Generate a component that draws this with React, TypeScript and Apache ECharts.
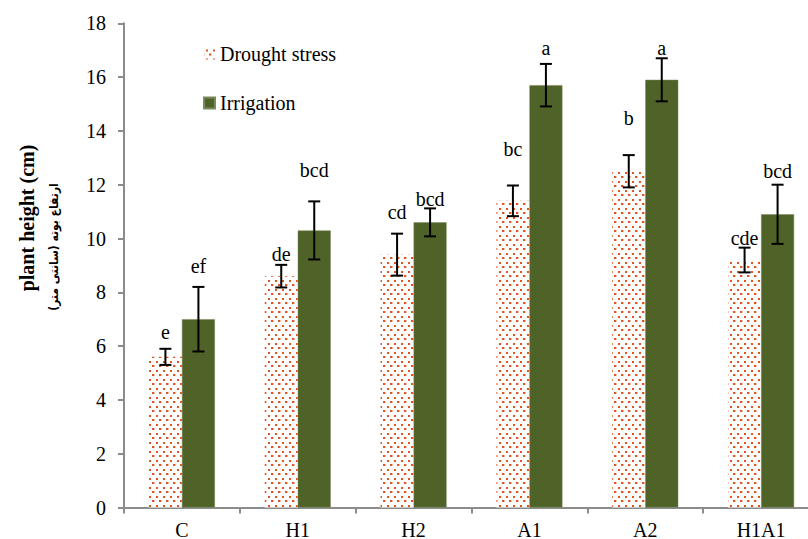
import React, { useEffect, useRef } from "react";
import * as echarts from "echarts";

const categories = ["C", "H1", "H2", "A1", "A2", "H1A1"];
const drought = [5.6, 8.6, 9.4, 11.4, 12.5, 9.2];
const droughtErr = [0.3, 0.42, 0.78, 0.57, 0.6, 0.46];
const irrigation = [7.0, 10.3, 10.6, 15.7, 15.9, 10.9];
const irrigationErr = [1.2, 1.08, 0.52, 0.79, 0.8, 1.1];
const droughtLetters = ["e", "de", "cd", "bc", "b", "cde"];
const irrigationLetters = ["ef", "bcd", "bcd", "a", "a", "bcd"];
const droughtLetterAt = [6.54, 9.43, 10.98, 13.34, 14.48, 10.01];
const irrigationLetterAt = [8.96, 12.55, 11.46, 17.07, 17.07, 12.51];

const SERIF = "Liberation Serif";
const BAR_W = 33;

function makeDots() {
  const cv = document.createElement("canvas");
  cv.width = 7;
  cv.height = 9;
  const ctx = cv.getContext("2d")!;
  ctx.fillStyle = "#ffffff";
  ctx.fillRect(0, 0, 7, 9);
  ctx.fillStyle = "#E4521F";
  ctx.fillRect(2, 1, 2, 2);
  ctx.fillRect(5, 5, 2, 2);
  ctx.fillStyle = "rgba(228,82,31,0.35)";
  ctx.fillRect(0, 5, 1, 2);
  return cv;
}

function errSeries(name: string, vals: number[], errs: number[], letters: string[], at: number[], offset: number) {
  return {
    type: "custom",
    name,
    z: 5,
    silent: true,
    encode: { x: 0, y: 1 },
    data: vals.map((v, i) => [i, v, errs[i], at[i]]),
    renderItem: (params: any, api: any) => {
      const i = api.value(0);
      const v = api.value(1);
      const e = api.value(2);
      const lp = api.value(3);
      const c = api.coord([i, v]);
      const x = c[0] + offset;
      const top = api.coord([i, v + e])[1];
      const bot = api.coord([i, v - e])[1];
      const ly = api.coord([i, lp])[1];
      const st = { stroke: "#000", lineWidth: 2 };
      return {
        type: "group",
        children: [
          { type: "line", shape: { x1: x, y1: top, x2: x, y2: bot }, style: st },
          { type: "line", shape: { x1: x - 6, y1: top, x2: x + 6, y2: top }, style: st },
          { type: "line", shape: { x1: x - 6, y1: bot, x2: x + 6, y2: bot }, style: st },
          {
            type: "text",
            x,
            y: ly,
            style: {
              text: letters[params.dataIndex],
              fill: "#000",
              fontFamily: SERIF,
              fontSize: 20,
              fontWeight: "normal",
              align: "center",
              verticalAlign: "middle",
              textAlign: "center",
              textVerticalAlign: "middle",
            },
          },
        ],
      };
    },
  };
}

export default function App() {
  const ref = useRef<HTMLDivElement>(null);
  useEffect(() => {
    if (!ref.current) return;
    const chart = echarts.init(ref.current, null, { renderer: "svg" });
    const dots = makeDots();
    const pattern: any = {
      image: dots,
      repeat: "repeat",
      imageWidth: 7,
      imageHeight: 9,
    };
    chart.setOption({
      animation: false,
      backgroundColor: "#ffffff",
      textStyle: { fontFamily: SERIF },
      grid: {
        left: 124,
        top: 23.3,
        width: 695,
        height: 484.2,
        containLabel: false,
        outerBoundsMode: "none",
      },
      legend: {
        data: ["Drought stress", "Irrigation"],
        orient: "vertical",
        left: 203,
        top: 44,
        padding: 0,
        itemWidth: 11,
        itemHeight: 11,
        itemGap: 29,
        icon: "rect",
        textStyle: { fontFamily: SERIF, fontSize: 20, color: "#000" },
      },
      xAxis: {
        type: "category",
        data: categories,
        axisLine: { lineStyle: { color: "#8c8c8c", width: 2 } },
        axisTick: { show: true, length: 6, lineStyle: { color: "#8c8c8c", width: 2 } },
        axisLabel: { fontFamily: SERIF, fontSize: 20, color: "#000", margin: 12 },
      },
      yAxis: {
        type: "value",
        min: 0,
        max: 18,
        interval: 2,
        splitLine: { show: false },
        axisLine: { show: true, lineStyle: { color: "#8c8c8c", width: 2 } },
        axisTick: { show: true, length: 6, lineStyle: { color: "#8c8c8c", width: 2 } },
        axisLabel: { fontFamily: SERIF, fontSize: 20, color: "#000", margin: 18 },
      },
      graphic: [
        {
          type: "text",
          x: 27,
          y: 218,
          rotation: Math.PI / 2,
          style: {
            text: "plant height (cm)",
            fontFamily: SERIF,
            fontSize: 20,
            fontWeight: "bold",
            fill: "#000",
            align: "center",
            verticalAlign: "middle",
            textAlign: "center",
            textVerticalAlign: "middle",
          },
        },
        {
          type: "text",
          x: 54,
          y: 247,
          rotation: Math.PI / 2,
          style: {
            text: "ارتفاع بوته (سانتی متر)",
            fontFamily: "DejaVu Sans Condensed, DejaVu Sans",
            fontSize: 12,
            fontWeight: "bold",
            fill: "#000",
            align: "center",
            verticalAlign: "middle",
            textAlign: "center",
            textVerticalAlign: "middle",
          },
        },
      ],
      series: [
        {
          type: "bar",
          name: "Drought stress",
          data: drought,
          barWidth: BAR_W,
          barGap: "0%",
          itemStyle: { color: pattern },
        },
        {
          type: "bar",
          name: "Irrigation",
          data: irrigation,
          barWidth: BAR_W,
          barGap: "0%",
          itemStyle: { color: "#4F6228", borderColor: "#7a8a5c", borderWidth: 0.5 },
        },
        errSeries("droughtErr", drought, droughtErr, droughtLetters, droughtLetterAt, -BAR_W / 2),
        errSeries("irrigationErr", irrigation, irrigationErr, irrigationLetters, irrigationLetterAt, BAR_W / 2),
      ],
    });
    return () => chart.dispose();
  }, []);
  return (
    <div
      ref={ref}
      style={{ position: "fixed", left: 0, top: 0, width: 808, height: 539, background: "#fff" }}
    />
  );
}
